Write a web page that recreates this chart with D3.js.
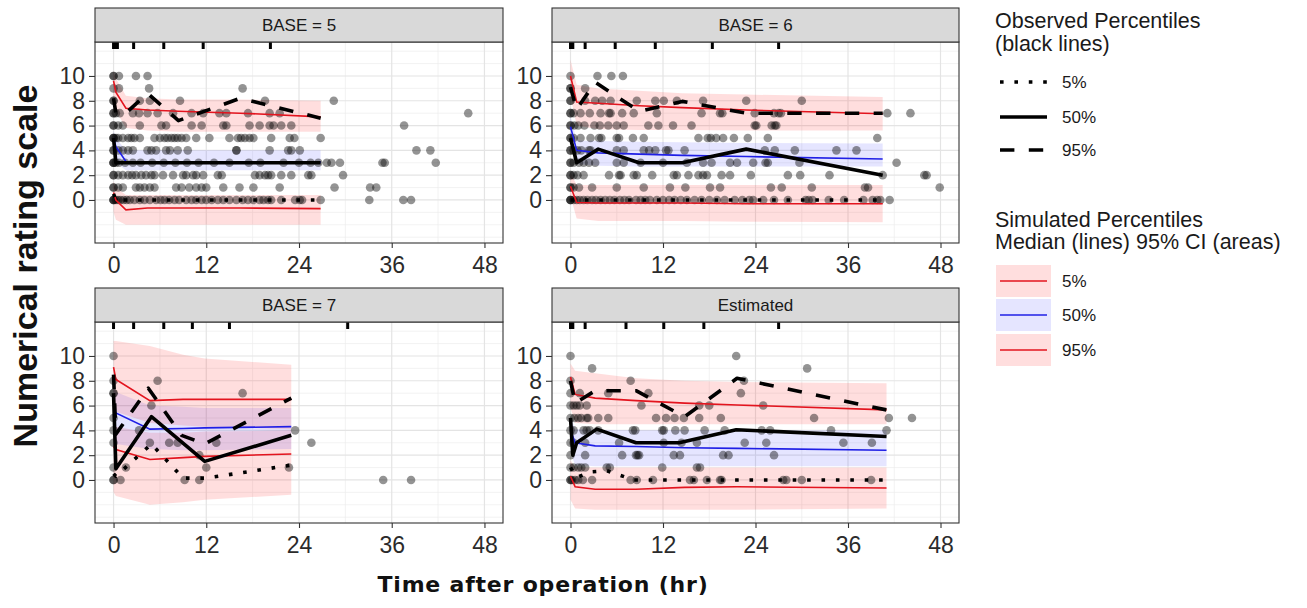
<!DOCTYPE html>
<html>
<head>
<meta charset="utf-8">
<script src="https://cdn.jsdelivr.net/npm/d3@7"></script>
<style>
  body { margin: 0; background: #fff; }
  svg { display: block; font-family: "Liberation Sans", Arial, sans-serif; }
</style>
</head>
<body>
<svg id="chart" width="1307" height="608"></svg>
<script>
// ---------------- data ----------------
const panelTitles = ["BASE = 5", "BASE = 6", "BASE = 7", "Estimated"];
const xTicks = [0, 12, 24, 36, 48];
const yTicks = [0, 2, 4, 6, 8, 10];

// observed NRS scores: [score, [times in hr]]
const obsBase5 = [
  [10, [0, 0, 0.7, 2.9, 4.4]],
  [9,  [0, 0.7, 4.6, 16.7]],
  [8,  [0, 0, 3.4, 4.7, 8.6, 19.6, 28.5]],
  [7,  [0, 0, 0.3, 0.8, 2.5, 3.3, 4.4, 5.7, 7.7, 10.1, 11.6, 13.7, 14.6, 17.4, 20.2, 21.5, 45.9]],
  [6,  [0, 0, 0.6, 1.2, 3.4, 6.2, 6.8, 10.1, 11.4, 14.2, 14.6, 17.6, 18.9, 20.2, 20.7, 21.7, 23.0, 37.6]],
  [5,  [0, 0, 0, 0.3, 0.6, 1.2, 1.9, 2.3, 2.7, 3.4, 5.3, 6.0, 6.6, 7.0, 7.5, 7.9, 8.3, 8.8, 9.4, 10.7, 12.4, 15.0, 16.1, 16.5, 17.0, 17.6, 18.1, 20.4, 22.8, 23.4, 26.8]],
  [4,  [0, 0, 0.6, 1.2, 1.9, 2.5, 4.4, 4.9, 5.5, 6.8, 7.3, 8.3, 9.6, 15.9, 15.9, 20.2, 22.6, 23.0, 24.1, 39.2, 41.0]],
  [3,  [0, 0, 0, 0.3, 0.7, 1.5, 2.5, 3.5, 5, 6.5, 8, 9.5, 11, 13, 15, 17.5, 19, 22, 24, 25.5, 26.5, 27.6, 28.2, 29.3, 34.8, 35.1, 41.7]],
  [2,  [0, 0, 0.6, 1.2, 1.9, 2.4, 2.9, 3.6, 4.2, 4.9, 5.3, 6.4, 7.7, 9.0, 9.4, 10.3, 10.7, 11.6, 13.5, 14.0, 18.3, 18.9, 19.6, 20.0, 20.4, 21.7, 23.0, 25.2, 25.6, 29.7]],
  [1,  [0, 0, 0.6, 1.2, 2.9, 3.4, 4.0, 4.7, 5.3, 8.1, 8.8, 9.8, 10.7, 11.4, 12.0, 14.2, 16.3, 18.1, 21.5, 28.6, 33.2, 34.0]],
  [0,  [0, 0, 0, 0.3, 0.6, 0.9, 1.3, 1.7, 2.1, 2.7, 3.4, 4.0, 4.7, 5.5, 6.1, 6.6, 7.2, 7.9, 8.5, 9.4, 10.1, 10.7, 11.4, 12.0, 12.7, 13.5, 14.2, 15.0, 15.9, 16.7, 17.4, 18.1, 18.9, 19.4, 20.0, 20.4, 21.7, 23.5, 24.1, 24.4, 26.8, 33.1, 37.5, 38.5]]
];
const obsBase6 = [
  [10, [0, 3.5, 5.3, 6.8]],
  [9,  [0, 0, 1.9]],
  [8,  [0, 0, 1.9, 3.2, 4.1, 5.2, 8.6, 11.0, 12.1, 13.8, 17.2, 22.8, 30.0]],
  [7,  [0, 0, 0.4, 1.3, 2.5, 3.9, 5.0, 5.2, 6.7, 8.2, 11.2, 17.0, 19.4, 19.7, 23.9, 26.4, 27.0, 27.3, 41.1, 44.1]],
  [6,  [0, 0, 0.5, 1.0, 1.8, 3.1, 3.8, 4.9, 6.0, 6.9, 10.1, 11.4, 13.3, 15.7, 23.9, 24.1, 26.1, 26.5, 26.7]],
  [5,  [0, 0, 0.4, 1.3, 2.6, 3.7, 4.0, 6.0, 6.3, 8.1, 9.5, 16.6, 17.8, 18.2, 18.9, 19.8, 21.2, 23.0, 25.6, 39.8]],
  [4,  [0, 0, 0.4, 0.9, 1.4, 2.4, 2.6, 6.0, 6.9, 9.5, 10.2, 11.0, 12.4, 12.7, 14.8, 25.2, 26.5, 29.1, 34.5, 37.1]],
  [3,  [0, 0, 0.4, 1.1, 1.7, 2.4, 3.2, 6.0, 6.9, 9.1, 12.0, 15.1, 17.2, 18.3, 20.7, 21.6, 23.7, 25.3, 25.6, 29.7, 42.3]],
  [2,  [0, 0, 0.4, 0.9, 1.7, 5.0, 6.3, 6.5, 8.2, 8.6, 10.6, 13.4, 13.8, 15.3, 16.6, 17.2, 17.7, 19.6, 20.7, 23.4, 28.2, 29.8, 33.6, 40.5, 45.9, 46.2]],
  [1,  [0, 0, 0.4, 1.1, 2.8, 6.0, 9.5, 12.9, 14.9, 18.1, 19.4, 26.0, 27.4, 31.3, 38.2, 38.6, 47.9]],
  [0,  [0, 0, 0, 0.4, 0.8, 1.2, 1.7, 2.2, 2.8, 3.3, 3.9, 4.5, 5.1, 5.7, 6.4, 7.0, 7.6, 8.5, 9.1, 9.7, 10.3, 11.2, 12.0, 12.8, 13.5, 14.3, 15.1, 16.1, 17.0, 18.0, 19.0, 20.0, 21.3, 22.3, 23.2, 23.7, 25.0, 26.4, 28.2, 30.5, 30.9, 31.4, 33.5, 35.5, 38.0, 39.2, 39.8, 40.2, 41.4]]
];
const obsBase7 = [
  [10, [0]],
  [8,  [0, 5.7]],
  [7,  [0, 0, 16.7]],
  [6,  [4.9]],
  [5,  [0]],
  [4,  [0, 3.3, 23.5]],
  [3,  [0, 4.7, 7.2, 8.3, 13.3, 25.6]],
  [2,  [11.1]],
  [1,  [0, 1.6, 12.0, 22.7]],
  [0,  [0, 0, 0.9, 9.2, 11.1, 34.9, 38.5]]
];
const obsEstimated = [
  [10, [0, 21.5]],
  [9,  [2.8, 30.7]],
  [8,  [0, 7.8, 22.5]],
  [7,  [0, 1.2, 4.9, 10.1, 22.1]],
  [6,  [0, 0.4, 0.8, 1.2, 2.1, 9.2, 16.7, 18.0, 25.0]],
  [5,  [0, 0.5, 1.0, 1.4, 2.1, 2.3, 3.6, 4.9, 11.1, 12.4, 13.5, 14.7, 16.7, 19.5, 31.6, 41.3, 44.3]],
  [4,  [0, 0.4, 1.7, 2.1, 2.5, 3.6, 8.1, 8.4, 11.9, 12.1, 13.6, 14.8, 17.4, 20.0, 24.8, 25.9, 33.8, 41.0]],
  [3,  [0, 0.4, 1.9, 6.3, 12.1, 14.4, 16.4, 22.6, 25.4, 35.4, 39.1]],
  [2,  [0, 1.9, 6.7, 8.5, 8.7, 8.9, 13.4, 14.2, 19.8, 20.5, 26.4]],
  [1,  [0, 0.4, 1.0, 1.4, 1.9, 4.7, 5.1, 11.9, 16.4, 16.8]],
  [0,  [0, 0, 0.2, 0.6, 1.0, 1.6, 2.8, 7.8, 8.6, 10.7, 15.5, 16.0, 17.7, 19.4, 19.6, 27.6, 28.0, 30.0, 39.0]]
];

// simulated percentiles: bin times and [lower CI, median, upper CI]
const simTimeBase5 = [0, 0.3, 1.6, 4.4, 8.4, 16.4, 26.8];
const sim05Base5 = [[-1.0, 0.6, 1.5], [-1.6, 0.0, 1.0], [-2.0, -0.8, 0.4], [-2.0, -0.65, 0.4], [-2.0, -0.65, 0.4], [-2.0, -0.65, 0.4], [-2.0, -0.7, 0.4]];
const sim50Base5 = [[3.8, 5.0, 5.6], [3.0, 4.3, 5.0], [2.4, 3.1, 4.0], [2.4, 3.05, 4.0], [2.4, 3.05, 4.0], [2.4, 3.05, 4.0], [2.4, 3.05, 4.0]];
const sim95Base5 = [[8.0, 9.6, 10.4], [7.2, 8.7, 9.8], [5.8, 7.4, 8.4], [5.6, 7.25, 8.2], [5.5, 7.15, 8.1], [5.5, 7.0, 8.1], [5.5, 6.7, 8.0]];

const simTimeBase6 = [0, 0.8, 3.6, 8.9, 14.5, 22.8, 40.5];
const sim05Base6 = [[0.3, 1.1, 2.2], [-1.5, -0.2, 1.2], [-1.7, -0.25, 1.2], [-1.7, -0.25, 1.2], [-1.7, -0.25, 1.2], [-1.75, -0.3, 1.2], [-1.8, -0.3, 1.2]];
const sim50Base6 = [[4.6, 5.9, 6.8], [2.9, 4.0, 4.8], [2.75, 3.8, 4.75], [2.7, 3.7, 4.7], [2.7, 3.6, 4.65], [2.7, 3.5, 4.6], [2.7, 3.3, 4.55]];
const sim95Base6 = [[8.4, 10.0, 11.3], [6.0, 7.9, 9.3], [5.7, 7.8, 9.0], [5.65, 7.6, 8.8], [5.65, 7.45, 8.6], [5.6, 7.25, 8.5], [5.6, 6.95, 8.3]];

const simTimeBase7 = [0, 0.3, 4.7, 9.0, 11.8, 23];
const sim05Base7 = [[-1.0, 2.7, 4.5], [-1.3, 2.45, 4.3], [-2.0, 1.65, 3.8], [-1.8, 1.8, 3.8], [-1.6, 1.9, 3.9], [-1.2, 2.1, 4.0]];
const sim50Base7 = [[3.2, 5.8, 7.5], [2.9, 5.4, 7.1], [2.5, 4.1, 6.0], [2.4, 4.15, 5.9], [2.4, 4.2, 5.8], [2.5, 4.3, 5.8]];
const sim95Base7 = [[6.5, 9.1, 11.2], [5.5, 8.1, 11.2], [4.6, 6.4, 10.8], [4.4, 6.5, 10.1], [4.3, 6.5, 9.8], [4.1, 6.5, 9.3]];

const simTimeEstimated = [0, 0.6, 3.2, 8.5, 14.8, 21.6, 41];
const sim05Estimated = [[-1.6, 0.3, 1.6], [-2.3, -0.55, 1.0], [-2.4, -0.75, 1.0], [-2.4, -0.75, 1.0], [-2.4, -0.6, 1.0], [-2.4, -0.55, 1.0], [-2.3, -0.65, 1.0]];
const sim50Estimated = [[2.2, 4.0, 5.2], [1.2, 3.0, 4.1], [1.1, 2.75, 4.05], [1.1, 2.7, 4.0], [1.1, 2.6, 4.0], [1.1, 2.55, 4.0], [1.1, 2.4, 4.0]];
const sim95Estimated = [[5.8, 8.3, 9.4], [4.6, 6.9, 8.8], [4.5, 6.6, 8.6], [4.5, 6.4, 8.2], [4.5, 6.2, 8.0], [4.5, 6.05, 7.9], [4.5, 5.65, 7.8]];

// observed percentiles: [time, score]
const obs05Base5 = [[0, 0.5], [0.3, 0], [1.6, 0], [4.4, 0], [8.4, 0], [16.4, 0], [26.8, 0]];
const obs50Base5 = [[0, 5], [0.3, 3], [1.6, 3], [4.4, 3], [8.4, 3], [16.4, 3], [26.8, 3]];
const obs95Base5 = [[0, 8.2], [0.3, 7], [1.6, 7], [4.4, 8.6], [8.4, 6.4], [16.4, 8.2], [26.8, 6.6]];

const obs05Base6 = [[0, 0], [0.8, 0], [3.6, 0], [8.9, 0], [14.5, 0], [22.8, 0], [40.5, 0]];
const obs50Base6 = [[0, 5], [0.8, 3], [3.6, 4.1], [8.9, 3], [14.5, 3], [22.8, 4.1], [40.5, 2]];
const obs95Base6 = [[0, 9.1], [0.8, 7.3], [3.2, 9.5], [8.9, 7.15], [14.5, 7.95], [22.8, 7.0], [40.5, 7.0]];

const obs05Base7 = [[0, 0.5], [0.3, 0.3], [4.9, 2.9], [9, 0.15], [12, 0.15], [23, 1.2]];
const obs50Base7 = [[0, 7], [0.3, 0.9], [4.9, 5.1], [11.8, 1.5], [23, 3.6]];
const obs95Base7 = [[0, 8.5], [0.3, 3.7], [4.5, 7.4], [8.8, 3.6], [11.8, 2.9], [23, 6.6]];

const obs05Estimated = [[0, 1], [0.8, 0.2], [2.6, 0.65], [4.7, 0.75], [8.2, 0], [41, 0]];
const obs50Estimated = [[0, 5], [0.3, 2], [0.8, 3], [3.4, 4.1], [8.5, 3], [14.1, 3], [21.5, 4.05], [41, 3.5]];
const obs95Estimated = [[0, 8], [0.6, 6.2], [3.2, 7.2], [8.5, 7.2], [14.8, 5.1], [21.6, 8.2], [41, 5.65]];

// bin boundaries shown as a rug along the top of each panel
const rugBase5 = [0, 0.25, 0.5, 2.6, 6.5, 11.6, 20.3];
const rugBase6 = [0, 0.3, 1.9, 5.8, 11.0, 18.4, 27.0];
const rugBase7 = [0, 2.6, 6.5, 10.2, 15.0, 30.3];
const rugEstimated = [0, 0.3, 1.9, 7.2, 12.1, 17.3, 27.0];

const obsLegendLabels = ["5%", "50%", "95%"];
const simLegendLabels = ["5%", "50%", "95%"];

// ---------------- layout & style ----------------
const svg = d3.select("#chart");
const cols = [{ x0: 95, x1: 503 }, { x0: 552, x1: 959 }];
const rows = [{ strip: 8, top: 42, bottom: 243 }, { strip: 288, top: 322, bottom: 523 }];
const xDomain = [-2.4, 50.4];
const yDomain = [-3.47, 12.74];

const RED = "#e3141e", BLUE = "#1f1fe6";
const RED_FILL = "rgba(255,0,0,0.13)", BLUE_FILL = "rgba(0,0,255,0.10)";
const OBS_W = 3.6;
const dashFor = { p05: `${OBS_W},${OBS_W * 3}`, p50: null, p95: `${OBS_W * 4},${OBS_W * 4}` };

const panels = [
  { title: panelTitles[0], col: 0, row: 0, pts: obsBase5, simT: simTimeBase5, sims: [sim05Base5, sim50Base5, sim95Base5], obs: [obs05Base5, obs50Base5, obs95Base5], rug: rugBase5 },
  { title: panelTitles[1], col: 1, row: 0, pts: obsBase6, simT: simTimeBase6, sims: [sim05Base6, sim50Base6, sim95Base6], obs: [obs05Base6, obs50Base6, obs95Base6], rug: rugBase6 },
  { title: panelTitles[2], col: 0, row: 1, pts: obsBase7, simT: simTimeBase7, sims: [sim05Base7, sim50Base7, sim95Base7], obs: [obs05Base7, obs50Base7, obs95Base7], rug: rugBase7 },
  { title: panelTitles[3], col: 1, row: 1, pts: obsEstimated, simT: simTimeEstimated, sims: [sim05Estimated, sim50Estimated, sim95Estimated], obs: [obs05Estimated, obs50Estimated, obs95Estimated], rug: rugEstimated }
];

panels.forEach((p, i) => {
  const c = cols[p.col], r = rows[p.row];
  const x = d3.scaleLinear().domain(xDomain).range([c.x0, c.x1]);
  const y = d3.scaleLinear().domain(yDomain).range([r.bottom, r.top]);
  const g = svg.append("g");

  const clipId = "clip" + i;
  g.append("clipPath").attr("id", clipId)
    .append("rect").attr("x", c.x0).attr("y", r.top).attr("width", c.x1 - c.x0).attr("height", r.bottom - r.top);

  g.append("rect").attr("x", c.x0).attr("y", r.top).attr("width", c.x1 - c.x0).attr("height", r.bottom - r.top).attr("fill", "#fff");

  const plot = g.append("g").attr("clip-path", `url(#${clipId})`);

  // grid: minor lines first, then major
  const yMinor = d3.range(-3, 13).filter(v => yTicks.indexOf(v) < 0);
  const xMinor = [6, 18, 30, 42];
  plot.selectAll(".ymin").data(yMinor).join("line")
    .attr("x1", c.x0).attr("x2", c.x1).attr("y1", d => y(d)).attr("y2", d => y(d))
    .attr("stroke", "#ececec").attr("stroke-width", 0.7);
  plot.selectAll(".xmin").data(xMinor).join("line")
    .attr("y1", r.top).attr("y2", r.bottom).attr("x1", d => x(d)).attr("x2", d => x(d))
    .attr("stroke", "#ececec").attr("stroke-width", 0.7);
  plot.selectAll(".ymaj").data(yTicks).join("line")
    .attr("x1", c.x0).attr("x2", c.x1).attr("y1", d => y(d)).attr("y2", d => y(d))
    .attr("stroke", "#e4e4e4").attr("stroke-width", 1.2);
  plot.selectAll(".xmaj").data(xTicks).join("line")
    .attr("y1", r.top).attr("y2", r.bottom).attr("x1", d => x(d)).attr("x2", d => x(d))
    .attr("stroke", "#e4e4e4").attr("stroke-width", 1.2);

  // simulated 95% CI ribbons
  const area = d3.area().x(d => x(d.t)).y0(d => y(d.lo)).y1(d => y(d.hi));
  const fills = [RED_FILL, BLUE_FILL, RED_FILL];
  p.sims.forEach((s, k) => {
    const rowsData = s.map((v, j) => ({ t: p.simT[j], lo: v[0], med: v[1], hi: v[2] }));
    plot.append("path").datum(rowsData).attr("d", area).attr("fill", fills[k]);
  });

  // observed scores
  const pts = [];
  p.pts.forEach(([score, times]) => times.forEach(t => pts.push([t, score])));
  plot.selectAll(".pt").data(pts).join("circle")
    .attr("cx", d => x(d[0])).attr("cy", d => y(d[1])).attr("r", 4.3)
    .attr("fill", "#000").attr("fill-opacity", 0.42);

  // simulated medians
  const line = d3.line().x(d => x(d[0])).y(d => y(d[1]));
  const lineCols = [RED, BLUE, RED];
  p.sims.forEach((s, k) => {
    const med = s.map((v, j) => [p.simT[j], v[1]]);
    plot.append("path").datum(med).attr("d", line)
      .attr("fill", "none").attr("stroke", lineCols[k]).attr("stroke-width", 1.6);
  });

  // observed percentiles
  const dashes = [dashFor.p05, dashFor.p50, dashFor.p95];
  p.obs.forEach((o, k) => {
    plot.append("path").datum(o).attr("d", line)
      .attr("fill", "none").attr("stroke", "#000").attr("stroke-width", OBS_W)
      .attr("stroke-dasharray", dashes[k]).attr("stroke-linejoin", "round");
  });

  // bin rug
  plot.selectAll(".rug").data(p.rug).join("line")
    .attr("x1", d => x(d)).attr("x2", d => x(d)).attr("y1", r.top).attr("y2", r.top + 7)
    .attr("stroke", "#000").attr("stroke-width", 3);

  // panel border
  g.append("rect").attr("x", c.x0).attr("y", r.top).attr("width", c.x1 - c.x0).attr("height", r.bottom - r.top)
    .attr("fill", "none").attr("stroke", "#333").attr("stroke-width", 1.1);

  // strip
  g.append("rect").attr("x", c.x0).attr("y", r.strip).attr("width", c.x1 - c.x0).attr("height", r.top - r.strip)
    .attr("fill", "#d9d9d9").attr("stroke", "#333").attr("stroke-width", 1.1);
  g.append("text").attr("x", (c.x0 + c.x1) / 2).attr("y", (r.strip + r.top) / 2 + 6)
    .attr("text-anchor", "middle").attr("font-size", 17).attr("fill", "#1a1a1a").text(p.title);

  // axes
  const ya = g.append("g").attr("transform", `translate(${c.x0},0)`)
    .call(d3.axisLeft(y).tickValues(yTicks).tickSize(6).tickPadding(4));
  const xa = g.append("g").attr("transform", `translate(0,${r.bottom})`)
    .call(d3.axisBottom(x).tickValues(xTicks).tickSize(5).tickPadding(9));
  [ya, xa].forEach(a => {
    a.select(".domain").remove();
    a.selectAll("line").attr("stroke", "#333").attr("stroke-width", 1.1);
    a.selectAll("text").attr("font-size", 23).attr("fill", "#2b2b2b")
      .attr("font-family", "'Liberation Sans', Arial, sans-serif");
  });
});

// axis titles
svg.append("text").attr("transform", "translate(37,266) rotate(-90)")
  .attr("text-anchor", "middle").attr("font-size", 34).attr("font-weight", "bold").attr("fill", "#111")
  .text("Numerical rating scale");
svg.append("text").attr("x", 543).attr("y", 592)
  .attr("text-anchor", "middle").attr("font-size", 22).attr("font-weight", "bold")
  .attr("font-family", "'DejaVu Sans', sans-serif").attr("letter-spacing", 0.8).attr("fill", "#111")
  .text("Time after operation (hr)");

// ---------------- legend ----------------
const lg = svg.append("g").attr("fill", "#1a1a1a");
lg.append("text").attr("x", 995).attr("y", 28).attr("font-size", 21.5).text("Observed Percentiles");
lg.append("text").attr("x", 995).attr("y", 51).attr("font-size", 21.5).text("(black lines)");
const obsKeyY = [82, 117, 150];
const obsKeyDash = [dashFor.p05, dashFor.p50, dashFor.p95];
obsLegendLabels.forEach((lab, k) => {
  lg.append("line").attr("x1", 1000).attr("x2", 1047).attr("y1", obsKeyY[k]).attr("y2", obsKeyY[k])
    .attr("stroke", "#000").attr("stroke-width", OBS_W).attr("stroke-dasharray", obsKeyDash[k]);
  lg.append("text").attr("x", 1062).attr("y", obsKeyY[k] + 6).attr("font-size", 17).text(lab);
});

lg.append("text").attr("x", 995).attr("y", 227).attr("font-size", 21.5).text("Simulated Percentiles");
lg.append("text").attr("x", 995).attr("y", 249).attr("font-size", 21.5).text("Median (lines) 95% CI (areas)");
const simKeyTop = [265, 299, 334];
const simKeyFill = [RED_FILL, BLUE_FILL, RED_FILL];
const simKeyLine = [RED, BLUE, RED];
simLegendLabels.forEach((lab, k) => {
  lg.append("rect").attr("x", 996).attr("y", simKeyTop[k]).attr("width", 55).attr("height", 32).attr("fill", simKeyFill[k]);
  const cy = simKeyTop[k] + 16;
  lg.append("line").attr("x1", 1000).attr("x2", 1047).attr("y1", cy).attr("y2", cy)
    .attr("stroke", simKeyLine[k]).attr("stroke-width", 1.6);
  lg.append("text").attr("x", 1062).attr("y", cy + 6).attr("font-size", 17).text(lab);
});
</script>
</body>
</html>
